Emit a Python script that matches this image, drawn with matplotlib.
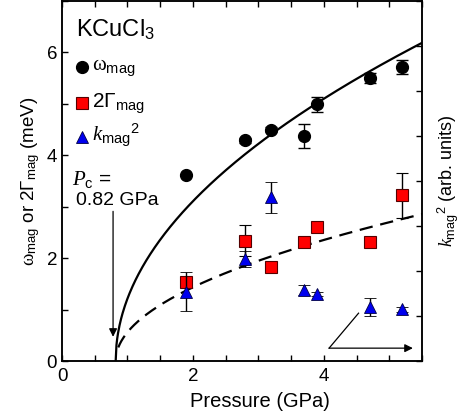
import numpy as np
import matplotlib
matplotlib.use('Agg')
import matplotlib.pyplot as plt
from matplotlib.ticker import MultipleLocator

plt.rcParams['font.family'] = ['Liberation Sans', 'DejaVu Sans']
plt.rcParams['mathtext.fontset'] = 'custom'
plt.rcParams['mathtext.rm'] = 'Liberation Sans'
plt.rcParams['mathtext.it'] = 'Liberation Serif:italic'
plt.rcParams['mathtext.sf'] = 'Liberation Serif'
plt.rcParams['mathtext.bf'] = 'Liberation Sans:bold'

# pressure points (GPa)
pressure = [1.9, 2.8, 3.2, 3.7, 3.9, 4.7, 5.2]

# omega_mag (meV)
omega = [3.61, 4.29, 4.50, 4.37, 4.99, 5.50, 5.72]
omega_err = [0.0, 0.05, 0.05, 0.23, 0.15, 0.1, 0.14]

# 2 Gamma_mag (meV)
gamma2 = [1.54, 2.34, 1.83, 2.32, 2.61, 2.32, 3.22]
gamma2_err = [0.0, 0.30, 0.0, 0.0, 0.0, 0.0, 0.43]

# k_mag^2 (arb. units, right axis)
k2 = [1.54, 2.27, 3.64, 1.58, 1.49, 1.21, 1.15]
k2_err = [0.43, 0.17, 0.34, 0.11, 0.05, 0.2, 0.05]

# square-root fits above the critical pressure
pc = 0.82
amp_omega = 2.86
amp_gamma = 1.32

fig = plt.figure(figsize=(4.61, 4.19), dpi=100)
ax = fig.add_axes([0.1345, 0.1384, 0.781, 0.8592])
ax2 = ax.twinx()

# fit curves
p_fit = np.linspace(pc, 5.5, 400)
ax.plot(p_fit, amp_omega * np.sqrt(p_fit - pc), color='black', lw=1.6, zorder=2)
p_fit2 = np.linspace(0.86, 5.5, 400)
ax.plot(p_fit2, amp_gamma * np.sqrt(p_fit2 - pc), color='black', lw=1.6,
        dashes=(6, 3.5), zorder=2)

ax.errorbar(pressure, omega, yerr=omega_err, fmt='o', color='black', ms=8.5,
            ecolor='black', elinewidth=1, capsize=4, capthick=1, zorder=4)
ax.errorbar(pressure, gamma2, yerr=gamma2_err, fmt='s', mfc='#ff0000', mec='#550000',
            mew=0.8, ms=9, ecolor='black', elinewidth=1, capsize=4, capthick=1, zorder=4)
ax2.errorbar(pressure, k2, yerr=k2_err, fmt='^', mfc='#0000ee', mec='#000044',
             mew=0.6, ms=8, ecolor='black', elinewidth=1, capsize=4, capthick=1, zorder=4)

ax.set_xlim(0, 5.5)
ax.set_ylim(0, 7)
ax2.set_ylim(0, 8)

ax.xaxis.set_major_locator(MultipleLocator(2))
ax.xaxis.set_minor_locator(MultipleLocator(0.5))
ax.yaxis.set_major_locator(MultipleLocator(2))
ax.yaxis.set_minor_locator(MultipleLocator(1))
ax2.yaxis.set_major_locator(MultipleLocator(1))
ax2.set_yticklabels([])

ax.tick_params(which='both', direction='in', top=True, right=False, labelsize=13.5,
               length=4, width=1)
ax.tick_params(axis='x', pad=5)
ax2.tick_params(which='both', direction='in', length=4, width=1)
for a in (ax, ax2):
    for s in a.spines.values():
        s.set_linewidth(1.1)

ax.set_xlabel('Pressure (GPa)', fontsize=14.5)
ax.xaxis.set_label_coords(0.55, -0.087)
ax.set_ylabel(r'$\mathsf{\omega}_{\mathrm{mag}}$ or 2$\Gamma_{\mathrm{mag}}$ (meV)',
              fontsize=13.5, labelpad=3)
ax2.set_ylabel(r'$k_{\mathrm{mag}}{}^{2}$ (arb. units)', fontsize=13, labelpad=6)

# annotations
ax.text(0.22, 6.43, r'KCuCl$_3$', fontsize=17, va='center', ha='left')
ax.plot([0.3], [5.71], 'o', color='black', ms=8.5)
ax.text(0.46, 5.68, r'$\mathsf{\omega}_{\mathrm{mag}}$', fontsize=15, va='center')
ax.plot([0.3], [5.01], 's', mfc='#ff0000', mec='#550000', mew=0.8, ms=9)
ax.text(0.46, 5.0, r'2$\Gamma_{\mathrm{mag}}$', fontsize=15, va='center')
ax.plot([0.3], [4.35], '^', mfc='#0000ee', mec='#000044', mew=0.6, ms=8)
ax.text(0.46, 4.38, r'$k_{\mathrm{mag}}{}^{2}$', fontsize=15, va='center')

ax.text(0.15, 3.52, r'$P_{\mathrm{c}}$ =', fontsize=15, va='center')
ax.text(0.22, 3.12, '0.82 GPa', fontsize=14, va='center')
ax.annotate('', xy=(0.78, 0.47), xytext=(0.78, 2.91),
            arrowprops=dict(arrowstyle='-|>', color='black', lw=0.9,
                            mutation_scale=12, shrinkA=0, shrinkB=0))

ax.plot([4.53, 4.08], [0.93, 0.25], color='black', lw=0.9)
ax.annotate('', xy=(5.36, 0.25), xytext=(4.08, 0.25),
            arrowprops=dict(arrowstyle='-|>', color='black', lw=0.9,
                            mutation_scale=12, shrinkA=0, shrinkB=0))

fig.savefig('out.png', dpi=100)
